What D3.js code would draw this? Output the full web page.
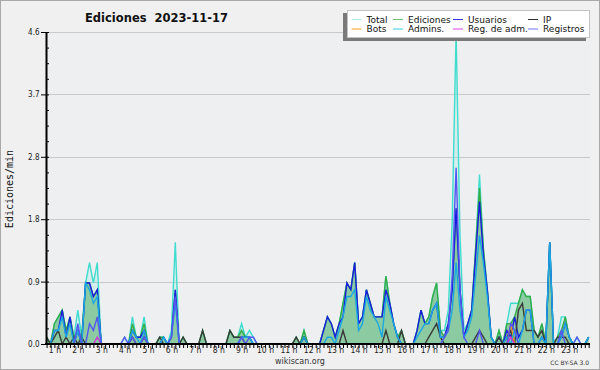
<!DOCTYPE html>
<html>
<head>
<meta charset="utf-8">
<script src="https://cdn.jsdelivr.net/npm/d3@7"></script>
<style>
body { margin: 0; background: #fff; }
svg { display: block; }
</style>
</head>
<body>
<script>
// 10 minute buckets, first one at 0:40, last at 23:50
var startMin = 40
var stepMin = 10

var total = [
	0.1,0,0.3,0.4,0.5,0.2,0.4,0.1,0.5,0.1,
	0.9,1.2,0.9,1.2,0,0,0,0,0,0,
	0.1,0,0.4,0.1,0.1,0.4,0,0,0,0.1,
	0.1,0,0.2,1.5,0,0.1,0,0,0,0,
	0.2,0,0,0,0,0,0,0.2,0.1,0.1,
	0.3,0.1,0.2,0.1,0,0,0,0,0,0,
	0,0,0,0,0.1,0,0.2,0,0,0,
	0,0.2,0.4,0.3,0.1,0.3,0.6,0.9,0.8,1.2,
	0.3,0.4,0.8,0.6,0.4,0.4,0.4,1.0,0.6,0.3,
	0.1,0.2,0,0,0,0.2,0.5,0.3,0.4,0.7,
	0.9,0.2,0.2,0.5,1.8,4.6,1.6,0.2,0.3,0.5,
	1.4,2.5,1.4,0.8,0.1,0,0.2,0,0.3,0.6,
	0.6,0.6,0.8,0.7,0.7,0.2,0.1,0.3,0,1.5,
	0,0.1,0.4,0.4,0.1,0,0.1,0,0,0.1
]
var ediciones = [
	0.1,0,0.3,0.4,0.5,0.2,0.4,0.1,0.2,0.1,
	0.9,0.9,0.7,0.8,0,0,0,0,0,0,
	0,0,0.3,0.1,0.1,0.3,0,0,0,0.1,
	0.1,0,0.1,0.8,0,0.1,0,0,0,0,
	0.2,0,0,0,0,0,0,0.2,0.1,0.1,
	0.2,0.1,0.1,0,0,0,0,0,0,0,
	0,0,0,0,0.1,0,0.2,0,0,0,
	0,0.2,0.4,0.3,0.1,0.3,0.6,0.9,0.8,1.2,
	0.3,0.4,0.8,0.6,0.4,0.4,0.4,1.0,0.6,0.3,
	0.1,0.2,0,0,0,0.2,0.5,0.3,0.4,0.7,
	0.9,0.2,0.1,0.3,0.8,2.0,0.8,0.1,0.3,0.5,
	1.4,2.3,1.4,0.8,0.1,0,0.2,0,0.3,0.3,
	0.4,0.6,0.8,0.7,0.7,0.2,0.1,0.3,0,1.5,
	0,0.1,0.2,0.4,0.1,0,0,0,0,0.1
]
var usuarios = [
	0,0,0.2,0.2,0.5,0.1,0.4,0,0.2,0,
	0.9,0.9,0.7,0.8,0,0,0,0,0,0,
	0,0,0.2,0.1,0.1,0.2,0,0,0,0,
	0.1,0,0.1,0.8,0,0,0,0,0,0,
	0,0,0,0,0,0,0,0,0,0,
	0.1,0.1,0.1,0,0,0,0,0,0,0,
	0,0,0,0,0,0,0.1,0,0,0,
	0,0.2,0.4,0.3,0.1,0.3,0.4,0.9,0.8,1.2,
	0.3,0.4,0.8,0.6,0.4,0.4,0.4,0.8,0.6,0.3,
	0.1,0,0,0,0,0.2,0.5,0.3,0.3,0.5,
	0.6,0.1,0.1,0.3,0.8,2.0,0.8,0.1,0.3,0.5,
	1.3,2.1,1.3,0.8,0.1,0,0.1,0,0.2,0.1,
	0.4,0.1,0.2,0.5,0.5,0,0,0.1,0,1.5,
	0,0,0.1,0.3,0.1,0,0,0,0,0.1
]
var ip = [
	0.1,0,0.1,0.2,0,0.1,0,0.1,0,0.1,
	0,0,0,0,0,0,0,0,0,0,
	0,0,0.1,0,0,0.1,0,0,0,0.1,
	0,0,0,0,0,0.1,0,0,0,0,
	0.2,0,0,0,0,0,0,0.2,0.1,0.1,
	0.1,0,0,0,0,0,0,0,0,0,
	0,0,0,0,0.1,0,0.1,0,0,0,
	0,0,0,0,0,0,0.2,0,0,0,
	0,0,0,0,0,0,0,0.2,0,0,
	0,0.2,0,0,0,0,0,0,0.1,0.2,
	0.3,0.1,0,0,0,0,0,0,0,0,
	0.1,0.2,0.1,0,0,0,0.1,0,0.1,0.2,
	0,0.5,0.6,0.2,0.2,0.2,0.1,0.2,0,0,
	0,0.1,0.1,0.1,0,0,0,0,0,0
]
var bots = [
	0,0,0,0,0,0,0,0,0,0, 0,0,0,0,0,0,0,0,0,0,
	0,0,0,0,0,0,0,0,0,0, 0,0,0,0,0,0,0,0,0,0,
	0,0,0,0,0,0,0,0,0,0, 0,0,0,0,0,0,0,0,0,0,
	0,0,0,0,0,0,0,0,0,0, 0,0,0,0,0,0,0,0,0,0,
	0,0,0,0,0,0,0,0,0,0, 0,0,0,0,0,0,0,0,0,0,
	0,0,0,0,0,0,0,0,0,0, 0,0,0,0,0,0,0,0,0,0.3,
	0,0,0,0,0,0,0,0,0,0, 0,0,0,0,0,0,0,0,0,0
]
var admins = [
	0,0,0.2,0.2,0.4,0.1,0.3,0,0.2,0,
	0.9,0.8,0.6,0.7,0,0,0,0,0,0,
	0,0,0.2,0.1,0,0.2,0,0,0,0,
	0.1,0,0.1,0.6,0,0,0,0,0,0,
	0,0,0,0,0,0,0,0,0,0,
	0.1,0.1,0.1,0,0,0,0,0,0,0,
	0,0,0,0,0,0,0.1,0,0,0,
	0,0,0.1,0.1,0,0.2,0.4,0.7,0.7,0.8,
	0.2,0.3,0.7,0.5,0.4,0.3,0.1,0.7,0.5,0.3,
	0.1,0,0,0,0,0.1,0.2,0.3,0.3,0.5,
	0.6,0.1,0.1,0.2,0.5,1.2,0.5,0.1,0.2,0.4,
	1.0,1.6,1.2,0.7,0.1,0,0,0,0.1,0,
	0.2,0,0.2,0.5,0.5,0,0,0.1,0,1.5,
	0,0,0.1,0.3,0.1,0,0,0,0,0.1
]
var regAdm = [
	0,0,0,0,0,0,0,0,0,0, 0,0,0,0.1,0,0,0,0,0,0,
	0,0,0,0,0,0,0,0,0,0, 0,0,0,0,0,0,0,0,0,0,
	0,0,0,0,0,0,0,0,0,0, 0,0,0,0,0,0,0,0,0,0,
	0,0,0,0,0,0,0,0,0,0, 0,0,0,0,0,0,0,0,0,0,
	0,0,0,0,0,0,0,0,0,0, 0,0,0,0,0,0,0,0,0,0,
	0,0,0,0,0,0,0,0,0,0, 0,0,0,0,0,0,0,0,0,0.1,
	0,0,0,0,0,0,0,0,0,0, 0,0,0,0,0,0,0,0,0,0
]
var registros = [
	0,0,0,0,0,0,0,0,0.3,0,
	0,0.3,0.2,0.4,0,0,0,0,0,0,
	0.1,0,0.1,0,0,0.1,0,0,0,0,
	0,0,0.1,0.7,0,0,0,0,0,0,
	0,0,0,0,0,0,0,0,0,0,
	0.1,0,0.1,0.1,0,0,0,0,0,0,
	0,0,0,0,0,0,0,0,0,0,
	0,0,0,0,0,0,0,0,0,0,
	0,0,0,0,0,0,0,0,0,0,
	0,0,0,0,0,0,0,0,0,0,
	0,0,0.1,0.2,1.0,2.6,0.8,0.1,0,0,
	0,0.2,0,0,0,0,0,0,0,0.3,
	0.2,0,0,0,0,0,0,0,0,0,
	0,0,0.2,0,0,0,0.1,0,0,0
]

var hourLabels = d3.range(1, 24)
var yTicks = [0, 0.92, 1.84, 2.76, 3.68, 4.6]

var series = [
	{name: "Total", data: total, color: "#3fdcd0", legend: "#a6ecea"},
	{name: "Ediciones", data: ediciones, color: "#35ad45", legend: "#6cc46c"},
	{name: "Usuarios", data: usuarios, color: "#1c1ce0", legend: "#3333f0"},
	{name: "IP", data: ip, color: "#3a3a3a", legend: "#303030"},
	{name: "Bots", data: bots, color: "#f29a18", legend: "#f5a020"},
	{name: "Admins.", data: admins, color: "#1aa8e2", legend: "#33d0e0"},
	{name: "Reg. de adm.", data: regAdm, color: "#d030d8", legend: "#e040e8"},
	{name: "Registros", data: registros, color: "#5555f2", legend: "#7070ff"}
]

var W = 600, H = 370
var plotLeft = 46, plotRight = 590, plotTop = 32, plotBottom = 344

var svg = d3.select("body").append("svg")
	.attr("width", W).attr("height", H)
	.style("font-family", "'DejaVu Sans', sans-serif")

svg.append("rect").attr("x", 0.5).attr("y", 0.5)
	.attr("width", W - 1).attr("height", H - 1)
	.attr("fill", "#f0f0f0").attr("stroke", "#a9a9a9")

svg.append("rect").attr("x", plotLeft).attr("y", plotTop)
	.attr("width", plotRight - plotLeft).attr("height", plotBottom - plotTop)
	.attr("fill", "#eeeff1")

var x = d3.scaleLinear().domain([startMin / 60, (startMin + stepMin * 139) / 60]).range([46.6, 588.7])
var y = d3.scaleLinear().domain([0, 4.6]).range([plotBottom, plotTop])

function t(i) { return (startMin + stepMin * i) / 60 }

// grid
svg.append("g").selectAll("line").data(yTicks.slice(1)).join("line")
	.attr("x1", plotLeft).attr("x2", plotRight)
	.attr("y1", d => Math.round(y(d)) + 0.5).attr("y2", d => Math.round(y(d)) + 0.5)
	.attr("stroke", "#c9c9c9")

var area = d3.area().x((d, i) => x(t(i))).y0(y(0)).y1(d => y(d))
var line = d3.line().x((d, i) => x(t(i))).y(d => y(d))

svg.append("path").attr("d", area(total)).attr("fill", "#40e0d0").attr("fill-opacity", 0.14)
svg.append("path").attr("d", area(ediciones)).attr("fill", "#33a04a").attr("fill-opacity", 0.45)

series.forEach(function(s) {
	svg.append("path").attr("d", line(s.data))
		.attr("fill", "none").attr("stroke", s.color)
		.attr("stroke-width", 1.4).attr("stroke-linejoin", "miter")
})

// axes
var tickFont = "'DejaVu Sans Condensed', 'DejaVu Sans', sans-serif"

var minorY = d3.range(0, 21).map(k => k * 0.23)
svg.append("g").attr("transform", "translate(" + plotLeft + ",0)")
	.call(d3.axisRight(y).tickValues(minorY).tickSize(3).tickFormat(""))
	.call(g => g.select(".domain").remove())

var yAxis = svg.append("g").attr("transform", "translate(" + plotLeft + ",0)")
	.call(d3.axisLeft(y).tickValues(yTicks).tickFormat(d3.format(".1f")).tickSize(5).tickSizeOuter(0).tickPadding(1.5))
yAxis.select(".domain").attr("stroke-width", 2)
yAxis.selectAll("text").style("font-family", tickFont).style("font-size", "8px").attr("fill", "#222")

var minorX = d3.range(0, 140).map(t)
svg.append("g").attr("transform", "translate(0," + plotBottom + ")")
	.call(d3.axisBottom(x).tickValues(minorX).tickSize(4).tickFormat(""))
	.call(g => g.select(".domain").remove())

var xAxis = svg.append("g").attr("transform", "translate(0," + plotBottom + ")")
	.call(d3.axisBottom(x).tickValues(hourLabels).tickFormat(d => d + " h").tickSize(0).tickPadding(3))
xAxis.select(".domain").remove()
xAxis.selectAll("text").style("font-family", tickFont).style("font-size", "8.5px").attr("fill", "#222")

svg.append("line").attr("x1", plotLeft - 1).attr("x2", plotRight).attr("y1", plotBottom).attr("y2", plotBottom)
	.attr("stroke", "#000").attr("stroke-width", 2)

// titles
svg.append("text").attr("x", 85).attr("y", 22)
	.style("font-size", "11.5px").style("font-weight", "bold").attr("fill", "#111")
	.attr("xml:space", "preserve")
	.text("Ediciones  2023-11-17")

svg.append("text").attr("transform", "translate(13,189) rotate(-90)")
	.attr("text-anchor", "middle")
	.style("font-family", "'DejaVu Sans Mono', monospace").style("font-size", "10px").attr("fill", "#111")
	.text("Ediciones/min")

svg.append("text").attr("x", 300).attr("y", 364).attr("text-anchor", "middle")
	.style("font-size", "8px").attr("fill", "#333").text("wikiscan.org")

svg.append("text").attr("x", 589).attr("y", 365).attr("text-anchor", "end")
	.style("font-size", "6px").attr("fill", "#333").text("CC BY-SA 3.0")

// legend
var lg = svg.append("g")
lg.append("rect").attr("x", 343).attr("y", 13).attr("width", 243).attr("height", 28).attr("fill", "#7a7a7a")
lg.append("rect").attr("x", 347.5).attr("y", 10.5).attr("width", 242).attr("height", 27)
	.attr("fill", "#fff").attr("stroke", "#c4c4c4")

var colX = [351.5, 393, 453, 528]
var rowY = [19.5, 29]
series.forEach(function(s, k) {
	var cx = colX[k % 4], cy = rowY[Math.floor(k / 4)]
	lg.append("line").attr("x1", cx).attr("x2", cx + 10).attr("y1", cy).attr("y2", cy)
		.attr("stroke", s.legend).attr("stroke-width", 1)
	lg.append("text").attr("x", cx + 15).attr("y", cy + 3.3)
		.style("font-size", "9px").attr("fill", "#111").text(s.name)
})
</script>
</body>
</html>
